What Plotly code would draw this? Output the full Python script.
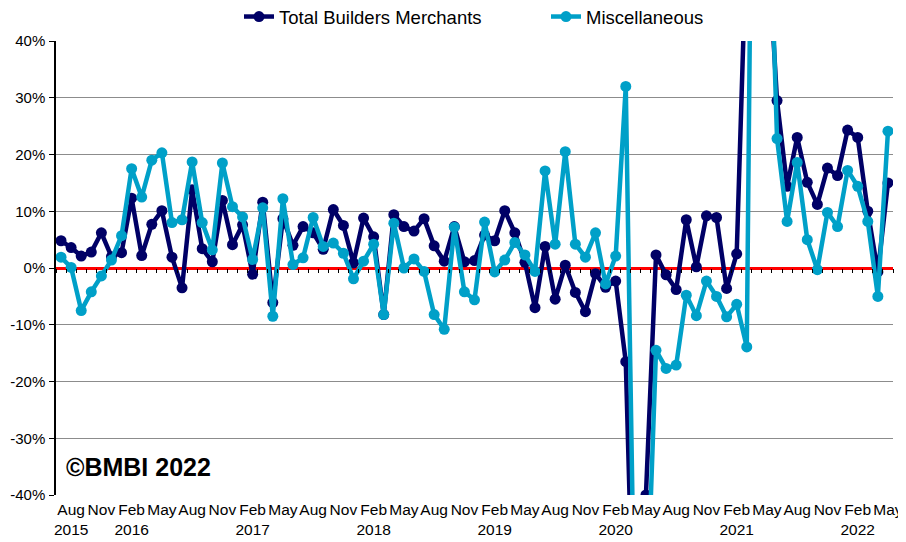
import plotly.graph_objects as go
import pandas as pd

# Monthly categories: Jul 2015 .. May 2022
months = pd.date_range("2015-07-01", "2022-05-01", freq="MS").strftime("%b %Y").tolist()

total_builders_merchants = [
    4.8, 3.6, 2.1, 2.8, 6.2, 2.0, 2.7, 12.3, 2.2, 7.7, 10.1, 1.9,
    -3.5, 13.8, 3.4, 1.1, 11.9, 4.1, 7.6, -1.1, 11.6, -6.1, 8.7, 4.0,
    7.3, 6.2, 3.3, 10.3, 7.5, 0.9, 8.8, 5.5, -8.2, 9.4, 7.3, 6.5,
    8.7, 3.9, 1.2, 7.3, 1.1, 1.3, 5.8, 4.8, 10.1, 6.2, 1.0, -7.0,
    3.8, -5.5, 0.5, -4.3, -7.7, -1.0, -3.4, -2.3, -16.5, -80.0, -40.0, 2.3,
    -1.2, -3.8, 8.5, 0.2, 9.2, 8.9, -3.6, 2.5, 60.0, 150.0, 60.0, 29.5,
    14.4, 23.0, 15.1, 11.2, 17.6, 16.3, 24.3, 23.0, 10.0, -0.7, 15.0,
]

miscellaneous = [
    1.9, 0.1, -7.5, -4.2, -1.4, 1.4, 5.7, 17.5, 12.5, 19.0, 20.3, 8.0,
    8.5, 18.7, 8.0, 3.2, 18.5, 10.8, 9.0, 1.5, 10.6, -8.5, 12.2, 0.6,
    1.8, 8.9, 3.8, 4.4, 2.6, -1.9, 1.2, 4.2, -8.2, 7.9, 0.0, 1.6,
    -0.6, -8.2, -10.8, 7.2, -4.2, -5.6, 8.1, -0.7, 1.4, 4.5, 2.3, -0.6,
    17.1, 4.2, 20.5, 4.2, 1.9, 6.2, -2.8, 2.1, 32.0, -78.0, -65.0, -14.5,
    -17.7, -17.1, -4.8, -8.4, -2.3, -5.0, -8.6, -6.4, -13.9, 170.0, 80.0, 22.8,
    8.2, 18.6, 5.0, -0.3, 9.8, 7.3, 17.2, 14.4, 8.2, -5.0, 24.1,
]

x_tick_values = months[1::3]
x_tick_labels = [
    "Aug<br>2015", "Nov",
    "Feb<br>2016", "May", "Aug", "Nov",
    "Feb<br>2017", "May", "Aug", "Nov",
    "Feb<br>2018", "May", "Aug", "Nov",
    "Feb<br>2019", "May", "Aug", "Nov",
    "Feb<br>2020", "May", "Aug", "Nov",
    "Feb<br>2021", "May", "Aug", "Nov",
    "Feb<br>2022", "May",
]

y_tick_values = [-40, -30, -20, -10, 0, 10, 20, 30, 40]
y_tick_labels = ["-40%", "-30%", "-20%", "-10%", "0%", "10%", "20%", "30%", "40%"]

DARK = "#000066"
LIGHT = "#00A0C8"
FONT = "Liberation Sans, Arial, sans-serif"

fig = go.Figure()
fig.add_trace(go.Scatter(
    x=months, y=total_builders_merchants, name="Total Builders Merchants",
    mode="lines+markers", line=dict(color=DARK, width=4.5),
    marker=dict(size=11, color=DARK),
))
fig.add_trace(go.Scatter(
    x=months, y=miscellaneous, name="Miscellaneous",
    mode="lines+markers", line=dict(color=LIGHT, width=4.5),
    marker=dict(size=11, color=LIGHT),
))
# helper trace for tick marks along the zero line
fig.add_trace(go.Scatter(x=[None], y=[None], xaxis="x2", showlegend=False,
                         hoverinfo="skip"))

# the page body adds an 8px offset, so the figure is sized to fit the window
fig.update_layout(
    width=898, height=534,
    margin=dict(l=48, r=13, t=33, b=47, autoexpand=False),
    paper_bgcolor="white", plot_bgcolor="white",
    font=dict(family=FONT, size=15, color="black"),
    showlegend=True,
    legend=dict(orientation="h", xref="container", yref="container",
                x=231 / 898, xanchor="left", y=1 - 9 / 534,
                yanchor="middle", font=dict(size=18.5), entrywidth=262,
                itemwidth=30, bgcolor="rgba(0,0,0,0)"),
    xaxis=dict(type="category", range=[-0.5, 82.5], tickmode="array",
               tickvals=x_tick_values, ticktext=x_tick_labels, tickangle=0,
               showgrid=False, zeroline=False, showline=False, ticks="",
               ticklabelstandoff=3, automargin=False,
               tickfont=dict(size=15.5)),
    xaxis2=dict(overlaying="x", anchor="free", position=0.5, type="linear",
                range=[-0.5, 82.5], tick0=0.5, dtick=1, ticks="outside",
                ticklen=4, tickwidth=1, tickcolor="black", automargin=False,
                showticklabels=False, showgrid=False, zeroline=False,
                showline=False),
    yaxis=dict(range=[-40, 40], tickmode="array", tickvals=y_tick_values,
               ticktext=y_tick_labels, showgrid=True, gridcolor="#8C8C8C",
               gridwidth=1.3, zeroline=True, zerolinecolor="#FF0000",
               zerolinewidth=2.5, showline=True, linecolor="black",
               linewidth=1.5, ticks="outside", ticklen=5, tickcolor="black",
               ticklabelstandoff=1, automargin=False,
               tickfont=dict(size=15)),
    annotations=[dict(text="<b>©BMBI 2022</b>", xref="paper", yref="paper",
                      x=0.01, y=0.062, xanchor="left", yanchor="middle",
                      showarrow=False,
                      font=dict(size=25, family=FONT, color="black"))],
)

fig.write_html("out.html")
